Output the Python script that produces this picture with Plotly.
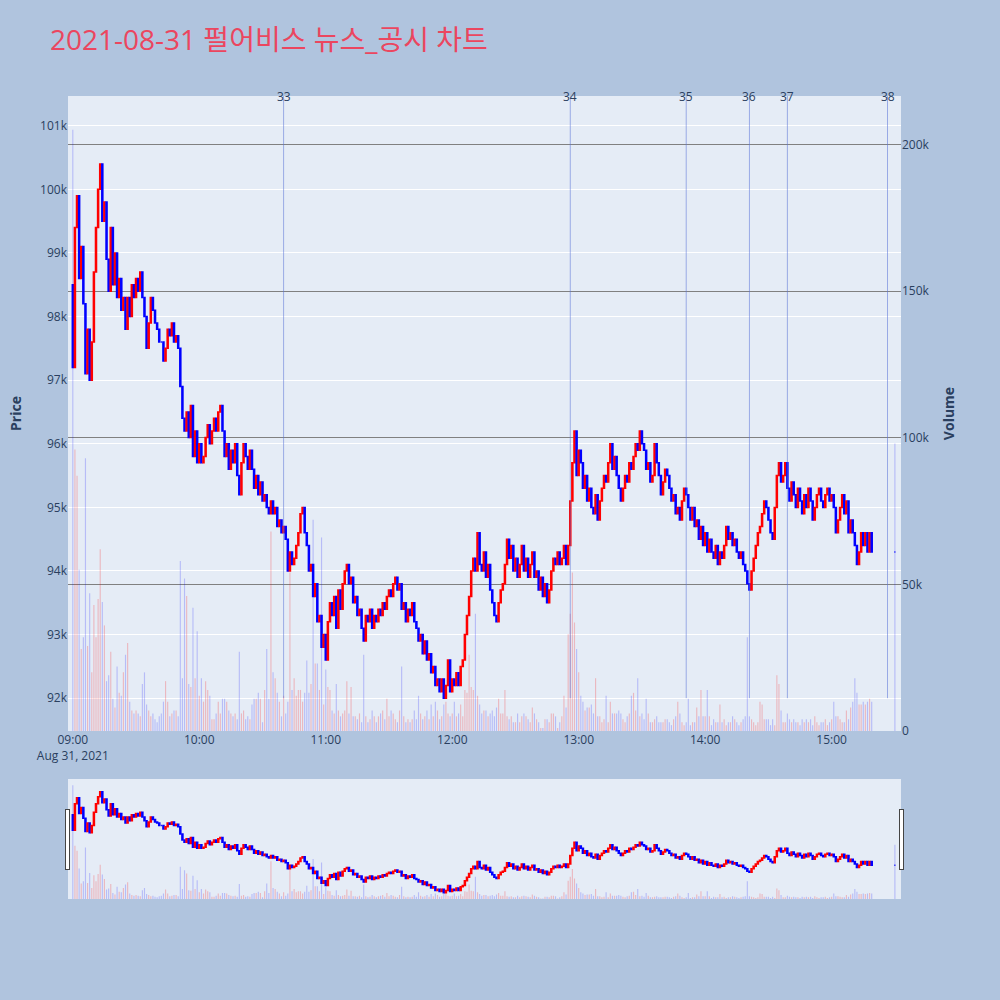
import pandas as pd
import plotly.graph_objects as go

# ---- data (prices in hundreds of KRW, volumes in thousands of shares) ----
first_open_h = 985
close_h = [
    972, 994, 999, 986, 991, 982, 971, 978, 970, 976,
    987, 994, 1000, 1004, 995, 998, 989, 984, 994, 985,
    990, 983, 986, 981, 983, 978, 983, 980, 985, 983,
    986, 984, 987, 983, 980, 975, 979, 983, 981, 979,
    978, 976, 976, 973, 975, 978, 977, 979, 976, 977,
    975, 969, 964, 962, 965, 961, 966, 958, 962, 957,
    960, 957, 958, 961, 963, 960, 962, 964, 962, 965,
    966, 962, 958, 960, 956, 959, 957, 960, 955, 952,
    957, 960, 958, 956, 959, 956, 953, 955, 952, 954,
    951, 952, 950, 949, 951, 949, 950, 947, 948, 946,
    947, 945, 940, 943, 941, 942, 944, 946, 949, 950,
    946, 944, 940, 941, 936, 938, 932, 933, 928, 930,
    926, 932, 935, 933, 936, 931, 937, 934, 938, 940,
    941, 938, 939, 935, 936, 933, 934, 931, 929, 933,
    932, 934, 931, 933, 932, 934, 933, 935, 934, 936,
    937, 936, 938, 939, 937, 938, 934, 935, 932, 934,
    933, 935, 932, 931, 929, 930, 927, 929, 926, 927,
    924, 925, 922, 923, 921, 923, 920, 922, 926, 921,
    923, 922, 924, 922, 925, 926, 930, 933, 936, 940,
    942, 940, 946, 941, 940, 943, 939, 941, 937, 935,
    933, 932, 935, 937, 938, 941, 945, 942, 944, 940,
    942, 939, 941, 944, 940, 942, 939, 941, 943, 939,
    940, 937, 939, 936, 938, 935, 937, 940, 942, 941,
    943, 941, 942, 944, 941, 944, 951, 957, 962, 955,
    959, 957, 953, 955, 951, 953, 950, 949, 952, 948,
    951, 953, 955, 954, 957, 960, 956, 958, 955, 953,
    951, 953, 955, 954, 957, 956, 958, 960, 959, 962,
    960, 959, 956, 957, 954, 955, 960, 957, 955, 952,
    954, 956, 955, 953, 951, 952, 949, 950, 948, 951,
    953, 952, 950, 948, 950, 947, 948, 945, 947, 944,
    946, 943, 945, 943, 942, 944, 941, 943, 942, 944,
    947, 945, 946, 944, 945, 943, 942, 943, 941, 940,
    938, 937, 940, 942, 944, 946, 947, 949, 951, 950,
    948, 946, 945, 950, 955, 957, 954, 955, 957, 953,
    951, 954, 952, 950, 953, 951, 949, 952, 950, 953,
    951, 948, 950, 952, 953, 951, 950, 952, 953, 951,
    952, 950, 946, 948, 950, 952, 949, 951, 946, 948,
    946, 944, 941, 943, 946, 944, 946, 943, 946, 943,
]
auction_time = "2021-08-31 15:30"
auction_price_h = 943

volume_k = [
    205, 96, 87, 55, 28, 32, 93, 29, 47, 20,
    43, 32, 45, 62, 44, 36, 17, 19, 27, 11,
    8, 22, 13, 12, 20, 26, 30, 10, 7, 6,
    7, 6, 5, 16, 20, 9, 7, 5, 6, 4,
    3, 5, 6, 10, 17, 10, 5, 6, 7, 7,
    5, 58, 18, 52, 46, 16, 15, 42, 18, 34,
    12, 18, 10, 17, 14, 12, 4, 4, 6, 10,
    6, 11, 11, 10, 7, 6, 5, 6, 4, 27,
    6, 7, 4, 5, 4, 9, 11, 11, 13, 11,
    3, 14, 28, 11, 68, 20, 18, 13, 10, 5,
    12, 6, 10, 54, 14, 18, 12, 14, 14, 10,
    13, 24, 13, 16, 72, 23, 23, 14, 66, 9,
    21, 15, 14, 7, 6, 16, 7, 5, 6, 7,
    17, 6, 15, 5, 5, 4, 6, 3, 26, 5,
    3, 4, 7, 5, 3, 5, 6, 7, 4, 11,
    5, 7, 6, 4, 3, 7, 22, 5, 3, 4,
    3, 4, 7, 4, 12, 6, 4, 5, 7, 4,
    9, 5, 10, 7, 4, 5, 9, 10, 6, 5,
    6, 10, 5, 6, 9, 5, 14, 13, 26, 15,
    14, 40, 12, 9, 6, 7, 7, 5, 6, 7,
    5, 8, 11, 6, 6, 14, 5, 4, 5, 3,
    3, 6, 3, 5, 6, 5, 4, 3, 8, 6,
    4, 3, 1, 1, 4, 4, 3, 6, 6, 5,
    1, 3, 5, 12, 8, 33, 40, 54, 37, 28,
    20, 12, 10, 7, 8, 8, 9, 6, 18, 5,
    5, 3, 4, 12, 3, 10, 6, 6, 6, 7,
    6, 4, 3, 5, 6, 12, 13, 7, 18, 5,
    6, 4, 11, 6, 3, 3, 4, 5, 3, 3,
    3, 4, 4, 3, 2, 4, 5, 10, 6, 3,
    2, 3, 11, 2, 3, 3, 8, 5, 14, 5,
    5, 14, 5, 2, 4, 3, 3, 9, 3, 4,
    2, 3, 3, 5, 4, 3, 2, 3, 4, 5,
    32, 5, 4, 3, 2, 3, 10, 9, 4, 4,
    4, 2, 4, 2, 19, 16, 7, 3, 3, 6,
    4, 3, 4, 3, 3, 2, 4, 3, 4, 3,
    4, 2, 5, 3, 2, 3, 3, 4, 2, 3,
    4, 10, 5, 5, 4, 3, 3, 7, 4, 8,
    10, 18, 13, 9, 9, 10, 9, 10, 11, 10,
]
auction_volume_k = 98

news_labels = ["33", "34", "35", "36", "37", "38"]
news_times = ["2021-08-31 10:40", "2021-08-31 12:56", "2021-08-31 13:51",
              "2021-08-31 14:21", "2021-08-31 14:39", "2021-08-31 15:26:30"]

title_text = "2021-08-31 펄어비스 뉴스_공시 차트"

# ---- build series ----
times = list(pd.date_range("2021-08-31 09:00", periods=len(close_h), freq="min")) + [pd.Timestamp(auction_time)]
close = [c * 100 for c in close_h] + [auction_price_h * 100]
open_ = [first_open_h * 100] + [c * 100 for c in close_h]
high = [max(o, c) for o, c in zip(open_, close)]
low = [min(o, c) for o, c in zip(open_, close)]
volume = [v * 1000 for v in volume_k] + [auction_volume_k * 1000]
vol_colors = ["rgba(255,0,0,0.22)" if c > o else "rgba(0,0,255,0.2)" for o, c in zip(open_, close)]

y_range = [91484, 101468]
y2_range = [0, 216500]
x_range = ["2021-08-31 08:57:43", "2021-08-31 15:32:54"]

fig = go.Figure()
fig.add_trace(go.Bar(x=times, y=volume, marker=dict(color=vol_colors, line=dict(width=0)),
                     yaxis="y2", name="Volume"))
fig.add_trace(go.Candlestick(x=times, open=open_, high=high, low=low, close=close,
                             increasing=dict(line=dict(color="red", width=1.5), fillcolor="red"),
                             decreasing=dict(line=dict(color="blue", width=1.5), fillcolor="blue"),
                             whiskerwidth=0, name="Price"))

for lab, t in zip(news_labels, news_times):
    fig.add_shape(type="line", xref="x", yref="y", x0=t, x1=t, y0=92000, y1=y_range[1],
                  line=dict(color="rgba(90,115,215,0.55)", width=1))
    fig.add_annotation(x=t, y=1, xref="x", yref="paper", text=lab, showarrow=False,
                       yanchor="middle", font=dict(size=12, color="#2a3f5f"))

fig.update_layout(
    width=1000, height=1000,
    paper_bgcolor="lightsteelblue",
    plot_bgcolor="#E5ECF6",
    showlegend=False,
    font=dict(family="Open Sans, Noto Sans CJK KR, sans-serif", color="#2a3f5f", size=12),
    title=dict(text=title_text, x=0.05, xanchor="left", y=0.96, yanchor="middle",
               font=dict(size=28, color="rgb(235,70,95)")),
    margin=dict(l=68, r=99, t=96, b=101),
    xaxis=dict(type="date", range=x_range, dtick=3600000, showgrid=False,
               rangeslider=dict(visible=True, thickness=0.15, range=x_range)),
    yaxis=dict(title=dict(text="<b>Price</b>", font=dict(size=14)), range=y_range, dtick=1000,
               gridcolor="white", zeroline=False),
    yaxis2=dict(title=dict(text="<b>Volume</b>", font=dict(size=14)), overlaying="y", side="right",
                range=y2_range, dtick=50000, showgrid=True, gridcolor="gray", gridwidth=1,
                zeroline=False),
    bargap=0.45,
)

fig.write_html("out.html", config={"displayModeBar": False},
               post_script="document.body.style.margin='0';")
